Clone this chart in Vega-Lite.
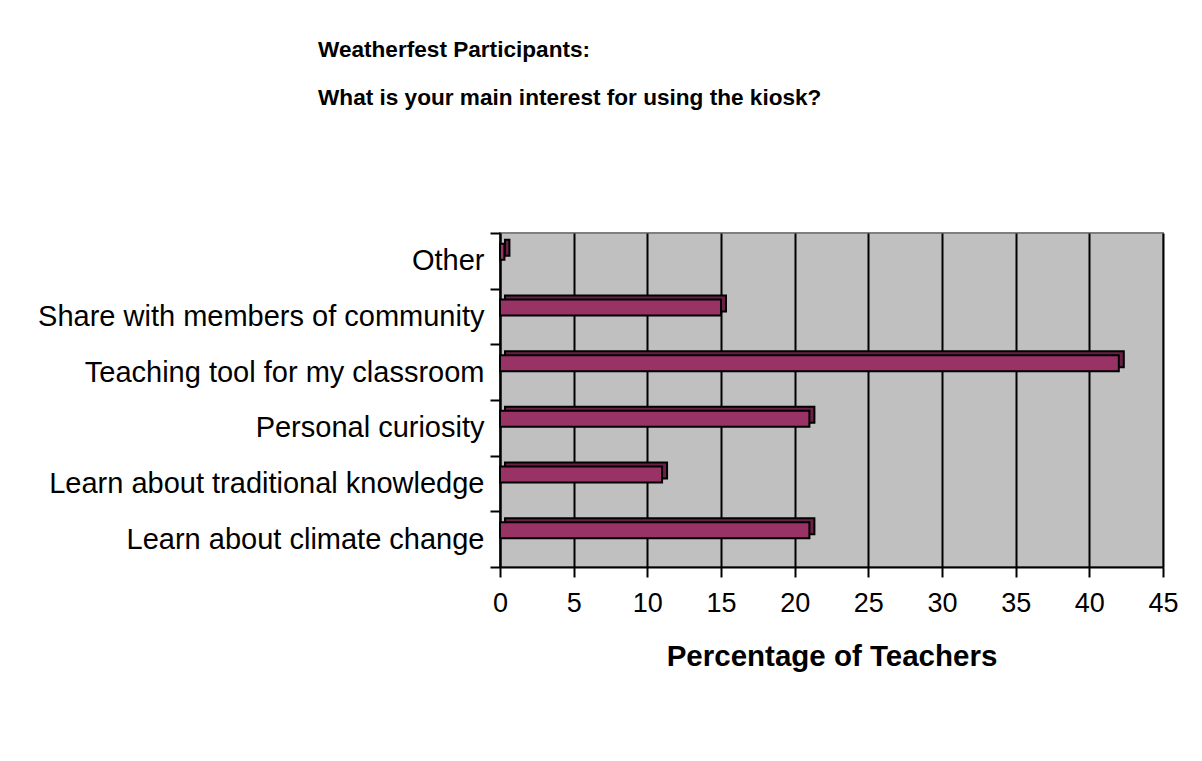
{
  "$schema": "https://vega.github.io/schema/vega-lite/v6.json",
  "autosize": "none",
  "width": 663,
  "height": 334,
  "padding": {"left": 500, "top": 233, "right": 39, "bottom": 194},
  "background": "white",
  "title": {
    "text": ["Weatherfest Participants:", "What is your main interest for using the kiosk?"],
    "frame": "group",
    "anchor": "start",
    "dx": -182,
    "offset": 109,
    "font": "Liberation Sans",
    "fontSize": 22.6,
    "fontWeight": "bold",
    "lineHeight": 48,
    "color": "black"
  },
  "data": {
    "values": [
      {"interest": "Other", "pct": 0.3},
      {"interest": "Share with members of community", "pct": 15},
      {"interest": "Teaching tool for my classroom", "pct": 42},
      {"interest": "Personal curiosity", "pct": 21},
      {"interest": "Learn about traditional knowledge", "pct": 11},
      {"interest": "Learn about climate change", "pct": 21}
    ]
  },
  "encoding": {
    "y": {
      "field": "interest",
      "type": "nominal",
      "sort": ["Other", "Share with members of community", "Teaching tool for my classroom", "Personal curiosity", "Learn about traditional knowledge", "Learn about climate change"],
      "title": null,
      "scale": {"paddingInner": 0, "paddingOuter": 0},
      "axis": {
        "labelFont": "Liberation Sans",
        "labelFontSize": 29,
        "labelColor": "black",
        "labelPadding": 6,
        "labelLimit": 500,
        "tickSize": 10,
        "tickBand": "extent",
        "tickColor": "black",
        "tickWidth": 2,
        "domainColor": "black",
        "domainWidth": 2,
        "grid": false
      }
    },
    "x": {
      "field": "pct",
      "type": "quantitative",
      "title": "Percentage of Teachers",
      "scale": {"domain": [0, 45], "nice": false},
      "axis": {
        "values": [0, 5, 10, 15, 20, 25, 30, 35, 40, 45],
        "labelFont": "Liberation Sans",
        "labelFontSize": 27,
        "labelColor": "black",
        "labelPadding": 13,
        "labelFlush": false,
        "tickSize": 10,
        "tickColor": "black",
        "tickWidth": 2,
        "domainColor": "black",
        "domainWidth": 2,
        "grid": true,
        "gridColor": "black",
        "gridWidth": 2,
        "gridOpacity": 1,
        "titleFont": "Liberation Sans",
        "titleFontSize": 29.5,
        "titleFontWeight": "bold",
        "titleColor": "black",
        "titlePadding": 26
      }
    }
  },
  "layer": [
    {
      "mark": {"type": "bar", "size": 16, "xOffset": 5, "yOffset": -13, "color": "#6b2147", "stroke": "black", "strokeWidth": 2}
    },
    {
      "mark": {"type": "bar", "size": 16, "yOffset": -9, "color": "#993366", "stroke": "black", "strokeWidth": 2}
    }
  ],
  "config": {
    "view": {"fill": "#c0c0c0", "stroke": "#808080", "strokeWidth": 2}
  }
}
